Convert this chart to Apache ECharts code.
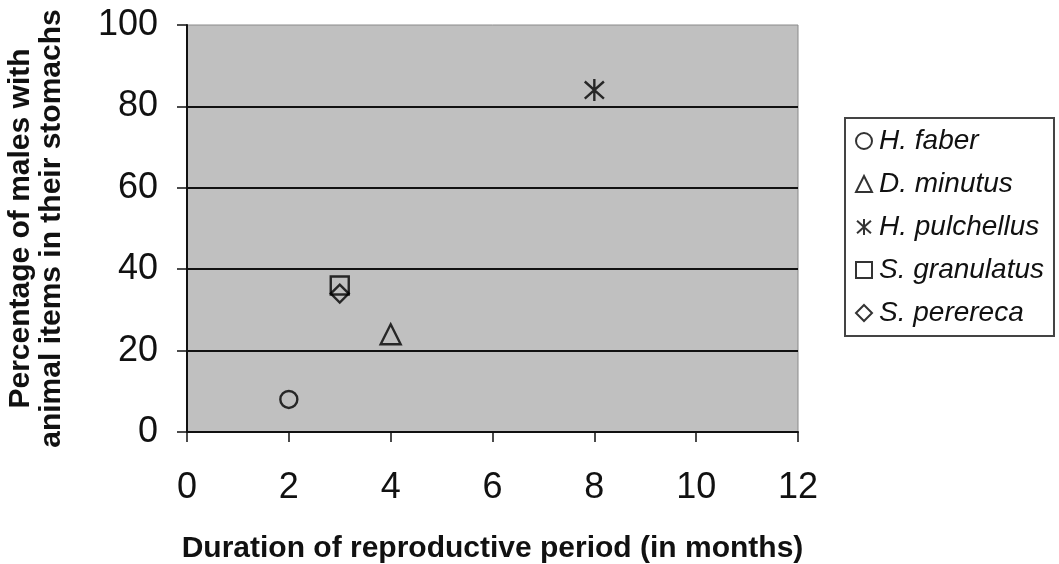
<!DOCTYPE html>
<html>
<head>
<meta charset="utf-8">
<script src="https://cdn.jsdelivr.net/npm/echarts@6/dist/echarts.min.js"></script>
<style>
  html, body { margin: 0; padding: 0; background: #fff; }
  #chart { width: 1059px; height: 564px; }
</style>
</head>
<body>
<div id="chart"></div>
<script>
// Species, reproductive period length (months) and % of males with animal prey
const species = ['H. faber', 'D. minutus', 'H. pulchellus', 'S. granulatus', 'S. perereca'];
const months = [2, 4, 8, 3, 3];
const percentMales = [8, 24, 84, 36, 34];

const xTicks = { min: 0, max: 12, step: 2 };
const yTicks = { min: 0, max: 100, step: 20 };

// Outline-only marker shapes for each species
const asterisk = 'path://M0,-11.5L0,11.5M-10,-9L10,9M-10,9L10,-9';
const symbols = ['circle', 'triangle', asterisk, 'rect', 'diamond'];
const sizes = [17, 20, 22, 18, 18];

const FONT = 'Liberation Sans, Arial, sans-serif';

const series = species.map((name, i) => ({
  name: name,
  type: 'scatter',
  symbol: symbols[i],
  symbolSize: sizes[i],
  symbolKeepAspect: true,
  data: [[months[i], percentMales[i]]],
  itemStyle: { color: 'rgba(0,0,0,0)', borderColor: '#000', borderWidth: 2.4 },
  emphasis: { disabled: true },
  z: 5
}));

const chart = echarts.init(document.getElementById('chart'));
chart.setOption({
  animation: false,
  textStyle: { fontFamily: FONT },
  grid: {
    left: 187, top: 25, right: 261, bottom: 132,
    outerBoundsMode: 'none',
    containLabel: false,
    show: true, backgroundColor: '#c0c0c0', borderColor: '#8a8a8a', borderWidth: 1
  },
  legend: {
    orient: 'vertical',
    left: 845, top: 118,
    padding: [9, 10, 9, 10],
    itemGap: 15,
    itemWidth: 16, itemHeight: 16,
    itemStyle: { borderWidth: 2, borderColor: '#000' },
    backgroundColor: '#fff',
    borderColor: '#444', borderWidth: 2,
    textStyle: { fontSize: 28, fontStyle: 'italic', color: '#111', fontFamily: FONT, padding: [0, 0, 0, 2] },
    data: species
  },
  xAxis: {
    type: 'value',
    min: xTicks.min, max: xTicks.max, interval: xTicks.step,
    name: 'Duration of reproductive period (in months)',
    nameLocation: 'middle', nameGap: 102,
    nameTextStyle: { fontSize: 30, fontWeight: 'bold', color: '#111', fontFamily: FONT },
    axisLine: { show: true, onZero: false, lineStyle: { color: '#111', width: 2 } },
    axisTick: { show: true, inside: false, length: 10, lineStyle: { color: '#111', width: 1.5 } },
    axisLabel: { fontSize: 36, color: '#111', margin: 38, fontFamily: FONT },
    splitLine: { show: false }
  },
  yAxis: {
    type: 'value',
    min: yTicks.min, max: yTicks.max, interval: yTicks.step,
    name: 'Percentage of males with\nanimal items in their stomachs',
    nameLocation: 'middle', nameGap: 120, nameRotate: 90,
    nameTextStyle: { fontSize: 30, fontWeight: 'bold', color: '#111', lineHeight: 31, fontFamily: FONT },
    axisLine: { show: true, onZero: false, lineStyle: { color: '#111', width: 2 } },
    axisTick: { show: true, inside: false, length: 10, lineStyle: { color: '#111', width: 1.5 } },
    axisLabel: { fontSize: 36, color: '#111', margin: 29, fontFamily: FONT },
    splitLine: { show: true, showMinLine: false, showMaxLine: false, lineStyle: { color: '#111', width: 2 } }
  },
  series: series
});
</script>
</body>
</html>
